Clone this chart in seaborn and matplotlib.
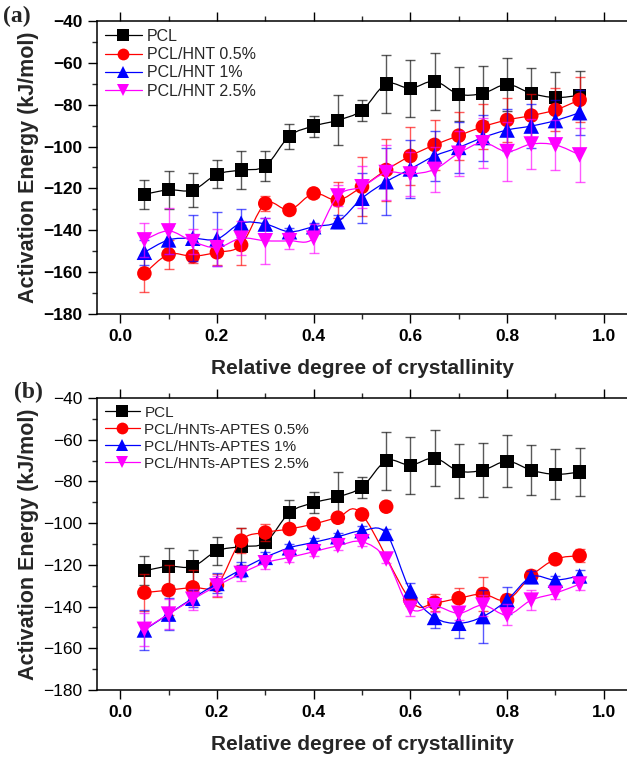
import numpy as np
import pandas as pd
import matplotlib
matplotlib.use("Agg")
import matplotlib.pyplot as plt
import seaborn as sns
from matplotlib.path import Path
from matplotlib.patches import PathPatch
from matplotlib.lines import Line2D
from matplotlib.ticker import MultipleLocator

# ---------------- data ----------------
xc = [0.05, 0.10, 0.15, 0.20, 0.25, 0.30, 0.35, 0.40, 0.45, 0.50,
      0.55, 0.60, 0.65, 0.70, 0.75, 0.80, 0.85, 0.90, 0.95]

pcl = [-122.8, -120.7, -120.8, -113.3, -111.2, -109.3, -95.0, -90.2, -87.4, -82.7,
       -70.1, -72.2, -68.8, -75.0, -74.6, -70.3, -74.6, -76.6, -75.5]
pcl_err = [7.0, 9.0, 8.0, 6.7, 9.0, 7.0, 6.0, 5.0, 12.0, 5.0,
           14.0, 13.7, 13.5, 13.0, 13.0, 12.5, 12.0, 12.0, 11.5]

hnt05 = [-160.6, -151.5, -152.4, -150.5, -147.0, -127.2, -130.3, -122.4, -125.6, -119.2,
         -111.2, -104.5, -99.2, -94.8, -90.5, -87.3, -85.2, -82.5, -77.7]
hnt05_err = [9.0, 7.0, 3.2, 6.0, 9.5, 3.4, 2.0, 1.5, 8.7, 14.0,
             15.0, 14.0, 12.0, 11.5, 10.8, 10.4, 10.3, 10.3, 10.8]

hnt1 = [-150.5, -144.6, -143.8, -144.2, -136.6, -137.0, -140.7, -138.3, -135.9, -124.7,
        -116.8, -110.7, -104.5, -100.4, -95.7, -92.1, -90.2, -87.6, -83.8]
hnt1_err = [6.0, 6.5, 11.0, 13.0, 6.8, 3.0, 2.0, 2.0, 3.0, 12.0,
            16.0, 14.0, 12.0, 12.0, 11.0, 10.0, 10.5, 10.0, 10.6]

hnt25 = [-144.6, -140.3, -145.4, -148.3, -143.8, -145.0, -145.0, -143.8, -123.6, -119.2,
         -112.4, -113.1, -110.9, -103.2, -98.2, -102.4, -98.8, -99.2, -104.0]
hnt25_err = [8.0, 11.0, 6.0, 9.0, 8.0, 11.0, 4.0, 7.0, 5.0, 10.0,
             13.0, 10.5, 10.7, 10.7, 12.0, 14.0, 12.0, 12.0, 12.8]

aptes05 = [-133.3, -132.1, -130.8, -129.7, -108.4, -104.5, -102.8, -100.4, -97.4, -95.8,
           -92.1, -136.9, -138.1, -136.0, -134.0, -136.9, -125.3, -117.3, -115.6]
aptes05_err = [9.0, 12.0, 8.5, 5.5, 6.0, 4.0, 2.0, 2.0, 2.0, 1.5,
               0.0, 3.0, 4.0, 5.0, 8.0, 3.0, 3.0, 2.0, 3.2]

aptes1 = [-151.2, -143.6, -136.0, -128.9, -122.2, -116.4, -111.8, -109.2, -106.5, -103.6,
          -104.9, -132.4, -145.2, -148.0, -144.8, -136.9, -125.7, -127.3, -125.3]
aptes1_err = [9.6, 7.5, 4.0, 4.8, 3.6, 2.5, 2.0, 2.0, 2.0, 2.0,
              2.0, 3.5, 5.0, 7.0, 12.8, 6.5, 3.0, 2.0, 3.0]

aptes25 = [-150.9, -143.6, -136.5, -130.1, -124.1, -119.0, -116.4, -113.7, -110.8, -108.9,
           -117.2, -140.8, -139.6, -143.2, -139.3, -144.0, -136.9, -133.6, -129.2]
aptes25_err = [8.0, 7.0, 5.0, 5.0, 3.5, 3.0, 2.0, 2.0, 2.0, 2.0,
               2.0, 3.5, 3.0, 3.0, 5.0, 5.0, 4.8, 3.0, 3.0]

# point of the 0.5 % APTES series left out of its connecting curve
aptes05_curve_skip = [0.55]

labels_a = ["PCL", "PCL/HNT 0.5%", "PCL/HNT 1%", "PCL/HNT 2.5%"]
labels_b = ["PCL", "PCL/HNTs-APTES 0.5%", "PCL/HNTs-APTES 1%", "PCL/HNTs-APTES 2.5%"]

colors = ["#000000", "#ff0000", "#0000ff", "#ff00ff"]
markers = ["s", "o", "^", "v"]
msizes = [90, 110, 125, 125]

# ---------------- style ----------------
sns.set_theme(style="ticks")
plt.rcParams["font.family"] = ["Liberation Sans", "DejaVu Sans"]
plt.rcParams["axes.linewidth"] = 1.1


def smooth_path(xs, ys):
    """Cubic Bezier path through the points (Catmull-Rom tangents)."""
    p = np.column_stack([xs, ys]).astype(float)
    n = len(p)
    verts = [p[0]]
    codes = [Path.MOVETO]
    for i in range(n - 1):
        p0 = p[i - 1] if i > 0 else p[i]
        p1 = p[i]
        p2 = p[i + 1]
        p3 = p[i + 2] if i + 2 < n else p[i + 1]
        c1 = p1 + (p2 - p0) / 6.0
        c2 = p2 - (p3 - p1) / 6.0
        verts += [c1, c2, p2]
        codes += [Path.CURVE4] * 3
    return Path(verts, codes)


def draw_panel(ax, series, labels, skip=None, bold_y=True, legend_fs=11.5):
    skip = skip or {}
    for i, (vals, errs) in enumerate(series):
        df = pd.DataFrame({"x": xc, "Ea": vals, "err": errs, "sample": labels[i]})
        z = 2 + 3 * i
        # error bars
        ax.errorbar(df["x"], df["Ea"], yerr=df["err"], fmt="none",
                    ecolor=colors[i], elinewidth=1.0, capsize=3.5,
                    capthick=1.0, alpha=0.65, zorder=z)
        # smooth connecting curve
        keep = ~df["x"].round(2).isin(skip.get(i, []))
        path = smooth_path(df["x"][keep].values, df["Ea"][keep].values)
        ax.add_patch(PathPatch(path, facecolor="none", edgecolor=colors[i],
                               lw=0.9, zorder=z + 1))
        # markers
        sns.scatterplot(data=df, x="x", y="Ea", ax=ax, color=colors[i],
                        marker=markers[i], s=msizes[i], edgecolor="none",
                        linewidth=0, zorder=z + 2, legend=False)

    ax.set_xlim(-0.048, 1.048)
    ax.set_ylim(-180, -40)
    ax.xaxis.set_major_locator(MultipleLocator(0.2))
    ax.xaxis.set_minor_locator(MultipleLocator(0.1))
    ax.yaxis.set_major_locator(MultipleLocator(20))
    ax.yaxis.set_minor_locator(MultipleLocator(10))
    ax.tick_params(axis="both", which="major", direction="out", length=6.5,
                   width=1.0, pad=4, labelsize=12.5, colors="black")
    ax.tick_params(axis="both", which="minor", direction="out", length=3.5,
                   width=1.0)
    ax.tick_params(axis="x", which="both", top=True, labeltop=False)
    for sp in ["left", "bottom", "top"]:
        ax.spines[sp].set_color("black")
        ax.spines[sp].set_linewidth(1.1)
    ax.spines["right"].set_visible(False)
    ax.xaxis.set_major_formatter(matplotlib.ticker.FormatStrFormatter("%.1f"))
    for t in ax.get_xticklabels():
        t.set_fontweight("bold")
    for t in ax.get_yticklabels():
        t.set_fontweight("bold" if bold_y else "normal")
    ax.set_xlabel("Relative degree of crystallinity", fontsize=15,
                  fontweight="bold", labelpad=11)
    ax.set_ylabel("Activation Energy (kJ/mol)", fontsize=15.5,
                  fontweight="bold", labelpad=3)
    ax.grid(False)

    handles = [Line2D([], [], color=colors[i], lw=0.9, marker=markers[i],
                      markersize=8.5, markeredgewidth=0)
               for i in range(len(labels))]
    ax.legend(handles, labels, loc="upper left", frameon=False,
              fontsize=legend_fs, handlelength=2.3, handletextpad=0.3,
              labelspacing=0.2, borderaxespad=0.3, borderpad=0.2)


fig = plt.figure(figsize=(6.27, 7.57), dpi=100)
ax1 = fig.add_axes([0.1547, 0.5852, 0.8453, 0.3871])
ax2 = fig.add_axes([0.1547, 0.0885, 0.8453, 0.3857])

draw_panel(ax1, [(pcl, pcl_err), (hnt05, hnt05_err), (hnt1, hnt1_err),
                 (hnt25, hnt25_err)], labels_a, bold_y=True, legend_fs=11.5)
draw_panel(ax2, [(pcl, pcl_err), (aptes05, aptes05_err), (aptes1, aptes1_err),
                 (aptes25, aptes25_err)], labels_b,
           skip={1: aptes05_curve_skip}, bold_y=False, legend_fs=11)

fig.text(0.005, 0.978, "(a)", fontsize=17, fontweight="bold",
         family=["Liberation Serif", "DejaVu Serif"], ha="left", va="center")
fig.text(0.023, 0.481, "(b)", fontsize=17, fontweight="bold",
         family=["Liberation Serif", "DejaVu Serif"], ha="left", va="center")

fig.savefig("out.png", dpi=100)
